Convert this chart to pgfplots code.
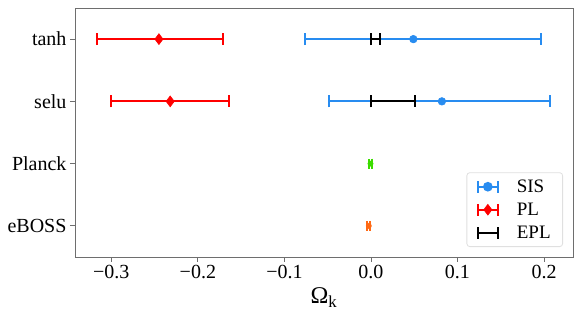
\documentclass[border=0pt]{standalone}
\usepackage{pgfplots}
\pgfplotsset{compat=1.18}
\usepackage{fontspec}
\setmainfont{Liberation Serif}
\definecolor{sis}{RGB}{40,140,240}
\definecolor{pl}{RGB}{255,0,0}
\definecolor{planck}{RGB}{60,220,0}
\definecolor{eboss}{RGB}{255,105,20}
\definecolor{axgray}{RGB}{110,110,110}
\pgfplotsset{
  myerr/.style={line width=2pt,
    error bars/x dir=both, error bars/x explicit,
    error bars/error bar style={line width=2pt, solid},
    error bars/error mark options={rotate=90, mark size=#1, line width=2pt, solid}},
  sisstyle/.style={sis, only marks, mark=*, mark size=3.8pt, mark options={line width=0.6pt}, myerr=6pt},
  plstyle/.style={pl, only marks, mark=diamond*, mark size=5.4pt, mark options={line width=0.6pt}, myerr=6pt},
  eplstyle/.style={black, only marks, mark=*, mark size=0pt, myerr=6pt},
}
\begin{document}
\begin{tikzpicture}
\useasboundingbox (-75pt,-61pt) rectangle (506pt,257pt);
\begin{axis}[
  scale only axis, width=498pt, height=249pt,
  xmin=-0.342, xmax=0.2335, ymin=-0.5, ymax=3.5,
  xtick={-0.3,-0.2,-0.1,0,0.1,0.2},
  xticklabels={−0.3,−0.2,−0.1,0.0,0.1,0.2},
  ytick={0,1,2,3}, yticklabels={eBOSS,Planck,selu,tanh},
  tick label style={font=\fontsize{20}{22}\selectfont},
  xlabel={\fontsize{24}{28}\selectfont Ω\textsubscript{k}},
  xlabel style={yshift=-2pt},
  axis line style={axgray, line width=0.8pt},
  tick style={axgray, line width=0.8pt},
  major tick length=5pt,
  tick align=outside, xtick pos=bottom, ytick pos=left,
  legend style={at={(rel axis cs:0.98,0.04)}, anchor=south east,
    draw=black!12, rounded corners=3pt, line width=0.8pt,
    font=\fontsize{19}{22}\selectfont, row sep=5pt, column sep=16pt,
    inner xsep=10pt, inner ysep=5pt},
  legend cell align=left,
]
\addplot[sisstyle,
  legend image code/.code={
    \draw[sis, line width=2pt] (0pt,0pt) -- (20pt,0pt);
    \draw[sis, line width=2pt] (0pt,-6pt) -- (0pt,6pt);
    \draw[sis, line width=2pt] (20pt,-6pt) -- (20pt,6pt);
    \fill[sis] (10pt,0pt) circle (3.8pt);}]
  coordinates {(0.049,3) +=(0.147,0) -=(0.125,0)};
\addlegendentry{SIS}
\addplot[plstyle,
  legend image code/.code={
    \draw[pl, line width=2pt] (0pt,0pt) -- (20pt,0pt);
    \draw[pl, line width=2pt] (0pt,-6pt) -- (0pt,6pt);
    \draw[pl, line width=2pt] (20pt,-6pt) -- (20pt,6pt);
    \path[pl, line width=0.6pt] plot[mark=diamond*, mark size=5.4pt] coordinates {(10pt,0pt)};}]
  coordinates {(-0.245,3) +=(0.074,0) -=(0.071,0)};
\addlegendentry{PL}
\addplot[eplstyle,
  legend image code/.code={
    \draw[black, line width=2pt] (0pt,0pt) -- (20pt,0pt);
    \draw[black, line width=2pt] (0pt,-6pt) -- (0pt,6pt);
    \draw[black, line width=2pt] (20pt,-6pt) -- (20pt,6pt);}]
  coordinates {(0.0055,3) +=(0.0055,0) -=(0.0055,0)};
\addlegendentry{EPL}
\addplot[sisstyle, forget plot]
  coordinates {(0.082,2) +=(0.125,0) -=(0.130,0)};
\addplot[plstyle, forget plot]
  coordinates {(-0.232,2) +=(0.068,0) -=(0.068,0)};
\addplot[eplstyle, forget plot]
  coordinates {(0.0255,2) +=(0.0255,0) -=(0.0255,0)};
\addplot[planck, only marks, mark=*, mark size=2.6pt, mark options={line width=0.6pt}, forget plot, myerr=5pt]
  coordinates {(-0.0005,1) +=(0.0015,0) -=(0.0015,0)};
\addplot[eboss, only marks, mark=*, mark size=2.6pt, mark options={line width=0.6pt}, forget plot, myerr=5pt]
  coordinates {(-0.0025,0) +=(0.0015,0) -=(0.0015,0)};
\end{axis}
\end{tikzpicture}
\end{document}
